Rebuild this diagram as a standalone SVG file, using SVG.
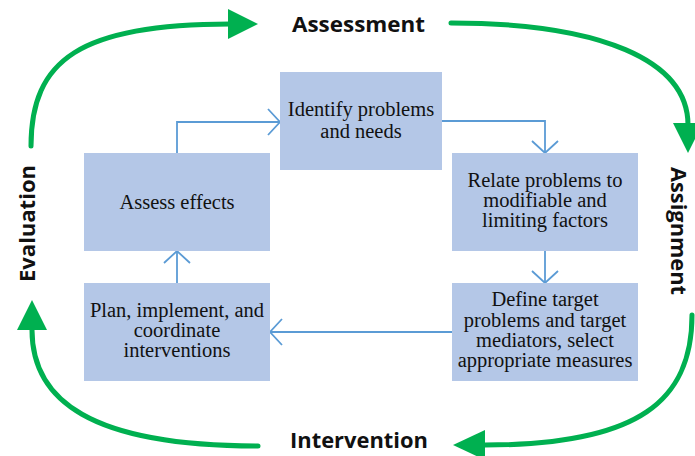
<svg xmlns="http://www.w3.org/2000/svg" width="695" height="456" viewBox="0 0 695 456">
<defs>
<style>
.box{fill:#B4C7E7;}
.bt{font-family:"Liberation Serif","Times New Roman",serif;font-size:20.5px;fill:#111;text-anchor:middle;}
.lab{font-family:"Open Sans","Liberation Sans",sans-serif;font-weight:bold;font-size:22px;fill:#111;}
.con{fill:none;stroke:#5B9BD5;stroke-width:1.8;}
.cyc{fill:none;stroke:#00B050;stroke-width:5;stroke-linecap:round;}
.head{fill:#00B050;}
</style>
<marker id="chev" viewBox="0 0 14 28" refX="13" refY="14" markerWidth="14" markerHeight="28" markerUnits="userSpaceOnUse" orient="auto">
<path d="M1,1 L13,14 L1,27" fill="none" stroke="#5B9BD5" stroke-width="1.8"/>
</marker>
</defs>
<rect width="695" height="456" fill="#fff"/>

<g id="cycle">
<path class="cyc" d="M31,146 C31,60 80,24 230,24"/>
<polygon class="head" points="228,9 258,24 228,39"/>
<path class="cyc" d="M451,23 C600,23 688,60 688,125"/>
<polygon class="head" points="673,123 703,123 688,153"/>
<path class="cyc" d="M692,315 C692,400 640,445 485,445"/>
<polygon class="head" points="485,430 485,460 453,445"/>
<path class="cyc" d="M258,446 C90,446 32,400 32,330"/>
<polygon class="head" points="17,330 47,330 32,300"/>
</g>

<g id="labels">
<text class="lab" x="292" y="32" textLength="133" lengthAdjust="spacingAndGlyphs">Assessment</text>
<text class="lab" x="290" y="448" textLength="138" lengthAdjust="spacingAndGlyphs">Intervention</text>
<text class="lab" transform="translate(35,282) rotate(-90)" textLength="117" lengthAdjust="spacingAndGlyphs">Evaluation</text>
<text class="lab" style="font-size:21px" transform="translate(671,167) rotate(90)" textLength="128" lengthAdjust="spacingAndGlyphs">Assignment</text>
</g>

<g id="connectors">
<path class="con" d="M177,153 V122 H280" marker-end="url(#chev)"/>
<path class="con" d="M442,121 H545 V153" marker-end="url(#chev)"/>
<path class="con" d="M545,251 V283" marker-end="url(#chev)"/>
<path class="con" d="M452,332 H270" marker-end="url(#chev)"/>
<path class="con" d="M177,283 V251" marker-end="url(#chev)"/>
</g>

<g id="identify">
<rect class="box" x="280" y="72" width="162" height="98"/>
<text class="bt" x="361" y="116">Identify problems</text>
<text class="bt" x="361" y="138">and needs</text>
</g>
<g id="assess">
<rect class="box" x="84" y="153" width="186" height="98"/>
<text class="bt" x="177" y="209">Assess effects</text>
</g>
<g id="relate">
<rect class="box" x="452" y="153" width="186" height="98"/>
<text class="bt" x="545" y="187">Relate problems to</text>
<text class="bt" x="545" y="207">modifiable and</text>
<text class="bt" x="545" y="227">limiting factors</text>
</g>
<g id="plan">
<rect class="box" x="84" y="283" width="186" height="98"/>
<text class="bt" x="177" y="317">Plan, implement, and</text>
<text class="bt" x="177" y="337">coordinate</text>
<text class="bt" x="177" y="357">interventions</text>
</g>
<g id="define">
<rect class="box" x="452" y="283" width="186" height="98"/>
<text class="bt" x="545" y="306">Define target</text>
<text class="bt" x="545" y="327">problems and target</text>
<text class="bt" x="545" y="347">mediators, select</text>
<text class="bt" x="545" y="367">appropriate measures</text>
</g>
</svg>
